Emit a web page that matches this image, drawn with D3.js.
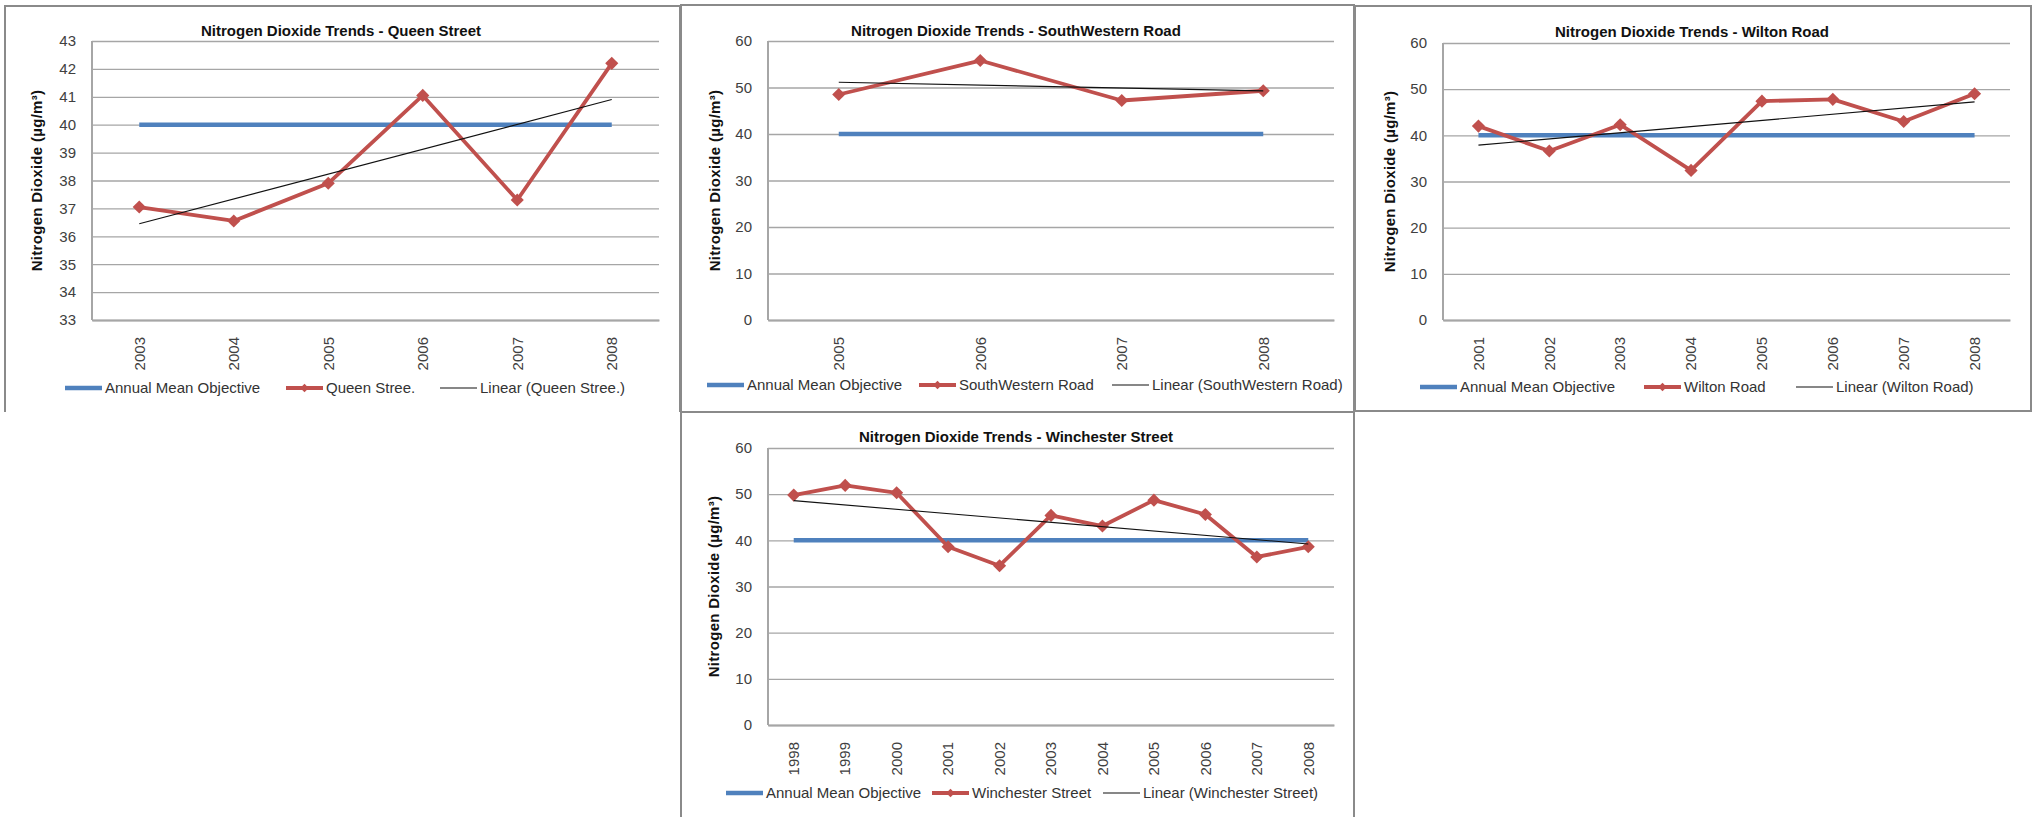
<!DOCTYPE html>
<html>
<head>
<meta charset="utf-8">
<script src="https://cdn.jsdelivr.net/npm/d3@7"></script>
<style>
  body { margin: 0; background: #fff; }
  svg text { font-family: "Liberation Sans", Arial, sans-serif; }
</style>
</head>
<body>
<div id="vis"></div>
<script>
// data
const queenYears = ["2003", "2004", "2005", "2006", "2007", "2008"];
const queenValues = [37.05, 36.55, 37.9, 41.05, 37.3, 42.2];
const queenTicks = [33, 34, 35, 36, 37, 38, 39, 40, 41, 42, 43];

const southYears = ["2005", "2006", "2007", "2008"];
const southValues = [48.5, 55.8, 47.2, 49.3];

const wiltonYears = ["2001", "2002", "2003", "2004", "2005", "2006", "2007", "2008"];
const wiltonValues = [42.0, 36.6, 42.3, 32.4, 47.4, 47.8, 43.0, 49.0];

const winchYears = ["1998", "1999", "2000", "2001", "2002", "2003", "2004", "2005", "2006", "2007", "2008"];
const winchValues = [49.8, 51.9, 50.3, 38.6, 34.5, 45.4, 43.1, 48.7, 45.6, 36.4, 38.6];

const stdTicks = [0, 10, 20, 30, 40, 50, 60];
const objective = 40;

const blue = "#4F81BD", red = "#C0504D", grid = "#a6a6a6";

const svg = d3.select("#vis").append("svg")
  .attr("width", 2040).attr("height", 817);

// panel frames
const frame = svg.append("g").attr("fill", "none").attr("stroke", "#8a8a8a").attr("stroke-width", 2);
frame.append("path").attr("d", "M5,412 V6 H680 V412");
frame.append("path").attr("d", "M681,412 V5 H1354 V412 Z");
frame.append("path").attr("d", "M1355,412 V6 H2031 V411 H1355");
frame.append("path").attr("d", "M681,817 V412 H1354 V817");

function drawPanel(cfg) {
  const g = svg.append("g");
  const x = d3.scaleBand().domain(cfg.years).range([cfg.x0, cfg.x1]);
  const y = d3.scaleLinear().domain([cfg.ticks[0], cfg.ticks[cfg.ticks.length - 1]]).range([cfg.y1, cfg.y0]);
  const cx = d => x(d) + x.bandwidth() / 2;

  // gridlines + y axis
  const ya = g.append("g").attr("transform", `translate(${cfg.x0},0)`)
    .call(d3.axisLeft(y).tickValues(cfg.ticks).tickSize(-(cfg.x1 - cfg.x0)).tickPadding(16).tickFormat(d3.format("d")));
  ya.select(".domain").remove();
  ya.selectAll(".tick line").attr("stroke", grid).attr("stroke-width", 1.3);
  ya.selectAll(".tick text").attr("fill", "#404040").style("font-size", "15px");
  g.append("line").attr("x1", cfg.x0).attr("x2", cfg.x0).attr("y1", cfg.y0).attr("y2", cfg.y1)
    .attr("stroke", grid).attr("stroke-width", 2);

  // x axis
  const xa = g.append("g").attr("transform", `translate(0,${cfg.y1})`)
    .call(d3.axisBottom(x).tickSize(0));
  xa.select(".domain").attr("stroke", grid).attr("stroke-width", 2);
  xa.selectAll(".tick text")
    .attr("fill", "#404040").style("font-size", "15px")
    .attr("transform", "rotate(-90)")
    .attr("x", -17).attr("y", 0).attr("dy", "0.35em")
    .attr("text-anchor", "end");

  // objective line
  g.append("line")
    .attr("x1", cx(cfg.years[0])).attr("x2", cx(cfg.years[cfg.years.length - 1]))
    .attr("y1", y(objective)).attr("y2", y(objective))
    .attr("stroke", blue).attr("stroke-width", 4.5);

  // series
  const pts = cfg.years.map((yr, i) => [cx(yr), y(cfg.values[i])]);
  g.append("path").attr("d", d3.line()(pts))
    .attr("fill", "none").attr("stroke", red).attr("stroke-width", 3.8).attr("stroke-linejoin", "round");
  g.selectAll(".mk").data(pts).enter().append("path")
    .attr("transform", d => `translate(${d[0]},${d[1]})`)
    .attr("d", d3.symbol(d3.symbolDiamond2, 110))
    .attr("fill", red);

  // linear trend (least squares on series)
  const n = cfg.values.length;
  const mx = (n - 1) / 2, my = d3.mean(cfg.values);
  let sxy = 0, sxx = 0;
  cfg.values.forEach((v, i) => { sxy += (i - mx) * (v - my); sxx += (i - mx) * (i - mx); });
  const b = sxy / sxx, a = my - b * mx;
  g.append("line")
    .attr("x1", cx(cfg.years[0])).attr("x2", cx(cfg.years[n - 1]))
    .attr("y1", y(a)).attr("y2", y(a + b * (n - 1)))
    .attr("stroke", "#111").attr("stroke-width", 1.1);

  // title
  g.append("text").attr("x", cfg.tx).attr("y", cfg.ty).attr("text-anchor", "middle")
    .style("font-size", "15px").style("font-weight", "bold").attr("fill", "#111")
    .text("Nitrogen Dioxide Trends - " + cfg.name);

  // y title
  g.append("text")
    .attr("transform", `translate(${cfg.ytx},${(cfg.y0 + cfg.y1) / 2}) rotate(-90)`)
    .attr("text-anchor", "middle").attr("dy", "0.35em")
    .style("font-size", "15px").style("font-weight", "bold").style("letter-spacing", "0.3px").attr("fill", "#111")
    .text("Nitrogen Dioxide (µg/m³)");

  // legend
  const lg = g.append("g").attr("transform", `translate(0,${cfg.ly})`);
  const items = [
    { label: "Annual Mean Objective", color: blue, w: 4.5, mk: false },
    { label: cfg.legendName, color: red, w: 3.8, mk: true },
    { label: "Linear (" + cfg.legendName + ")", color: "#111", w: 1.1, mk: false }
  ];
  items.forEach((it, i) => {
    const lx = cfg.lx[i];
    lg.append("line").attr("x1", lx).attr("x2", lx + 37).attr("stroke", it.color).attr("stroke-width", it.w);
    if (it.mk) lg.append("path").attr("transform", `translate(${lx + 18.5},0)`)
      .attr("d", d3.symbol(d3.symbolDiamond2, 45)).attr("fill", it.color);
    lg.append("text").attr("x", lx + 40).attr("dy", "0.35em")
      .style("font-size", "15px").attr("fill", "#333").text(it.label);
  });
}

drawPanel({ name: "Queen Street", legendName: "Queen Stree.", years: queenYears, values: queenValues, ticks: queenTicks,
  x0: 92, x1: 659, y0: 41, y1: 320, tx: 341, ty: 36, ytx: 37, ly: 388, lx: [65, 286, 440] });
drawPanel({ name: "SouthWestern Road", legendName: "SouthWestern Road", years: southYears, values: southValues, ticks: stdTicks,
  x0: 768, x1: 1334, y0: 41, y1: 320, tx: 1016, ty: 36, ytx: 715, ly: 385, lx: [707, 919, 1112] });
drawPanel({ name: "Wilton Road", legendName: "Wilton Road", years: wiltonYears, values: wiltonValues, ticks: stdTicks,
  x0: 1443, x1: 2010, y0: 43, y1: 320, tx: 1692, ty: 37, ytx: 1390, ly: 387, lx: [1420, 1644, 1796] });
drawPanel({ name: "Winchester Street", legendName: "Winchester Street", years: winchYears, values: winchValues, ticks: stdTicks,
  x0: 768, x1: 1334, y0: 448, y1: 725, tx: 1016, ty: 442, ytx: 714, ly: 793, lx: [726, 932, 1103] });
</script>
</body>
</html>
